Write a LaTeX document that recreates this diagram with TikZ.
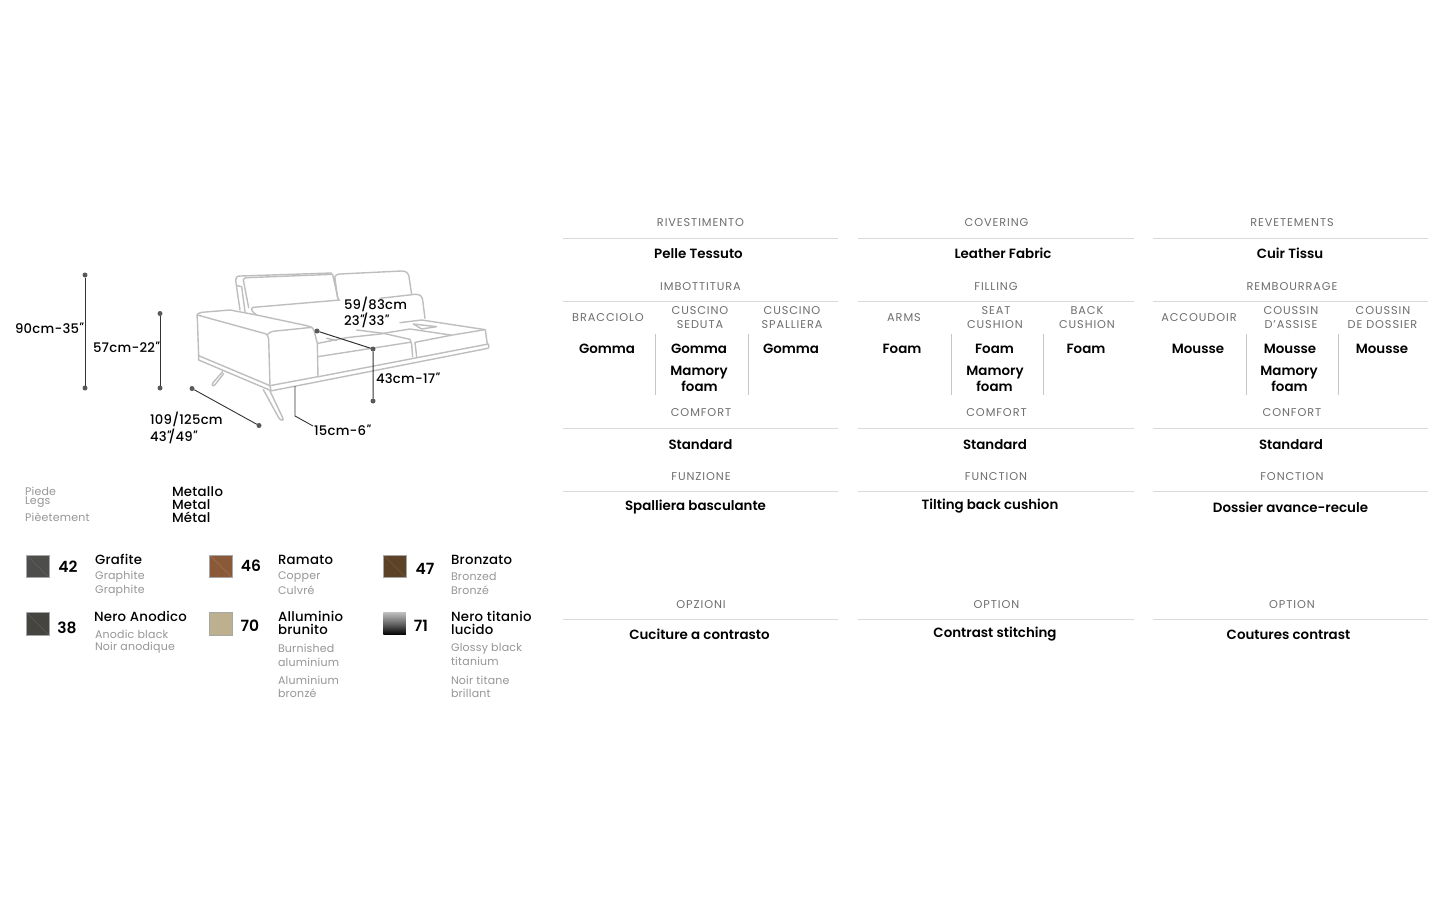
\documentclass[tikz,border=0pt]{standalone}
\usepackage{fontspec}
\setmainfont{Poppins}[BoldFont={Poppins SemiBold}]
\newfontfamily\medf{Poppins Medium}
\newfontfamily\slf{Poppins Medium}[FakeSlant=0.25]
\newcommand{\inch}{{\kern-1.6pt\slf"\kern-0.8pt}}
\newcounter{tn}
\newcommand{\T}[4]{\stepcounter{tn}\node[#1] (t\thetn) at (#2,#3) {#4};}
\definecolor{cap}{HTML}{6E6E6E}
\definecolor{sublab}{HTML}{969696}
\definecolor{sofa}{HTML}{BEBEBE}
\definecolor{swa}{RGB}{77,77,75}
\definecolor{swb}{RGB}{69,68,63}
\definecolor{swc}{RGB}{138,90,56}
\definecolor{swd}{RGB}{189,176,143}
\definecolor{swe}{RGB}{92,66,38}
\tikzset{
 x=1pt,y=-1pt,
 every node/.style={inner sep=0pt,outer sep=0pt},
 caphead/.style={font=\fontsize{11.3}{12}\selectfont\addfontfeatures{LetterSpace=8},text=cap,text height=8pt,text depth=0pt},
 val/.style={font=\bfseries\fontsize{13.4}{15}\selectfont,text=black,text height=9.5pt,text depth=0pt},
 dimtxt/.style={font=\medf\fontsize{13.2}{15}\selectfont\addfontfeatures{LetterSpace=2},text=black,anchor=west,text height=9.5pt,text depth=0pt},
 subl/.style={font=\fontsize{11}{12}\selectfont\addfontfeatures{LetterSpace=2},text=sublab,anchor=west,text height=7.5pt,text depth=0pt},
 ntxt/.style={font=\medf\fontsize{13.3}{15}\selectfont\addfontfeatures{LetterSpace=2},text=black,anchor=west,text height=9.5pt,text depth=0pt},
 numtxt/.style={font=\bfseries\fontsize{15.5}{17}\selectfont,text=black,text height=11pt,text depth=0pt},
 tblrule/.style={draw=black!15,line width=1pt},
 tblsep/.style={draw=black!22,line width=0.8pt},
 sofaline/.style={draw=sofa,line width=1.4pt,line join=round,line cap=round},
 dimdot/.style={circle,fill=black!65,minimum size=5pt},
 dimline/.style={draw=black!80,line width=1pt},
 swatch/.style={minimum width=22.5pt,minimum height=22.5pt,draw=black!35,line width=0.3pt},
}
\begin{document}
\begin{tikzpicture}
\useasboundingbox (0,0) rectangle (1440,900);
\fill[white] (0,0) rectangle (1440,900);
% sofa: left part, coordinates of a 3x crop at (190,265)
\begin{scope}[shift={(190,265)},x=0.3333pt,y=-0.3333pt]
\draw[sofaline] (22,158) .. controls (18,148) and (24,145) .. (35,142) -- (120,135) -- (200,150) -- (350,182) .. controls (368,186) and (372,192) .. (374,204) -- (382,235) -- (384,335);
\draw[sofaline] (22,150) -- (222,205) .. controls (232,208) and (235,212) .. (236,222) -- (240,362);
\draw[sofaline] (232,208) .. controls (238,202) and (245,199) .. (258,198) -- (366,187);
\draw[sofaline] (22,158) -- (26,272) -- (240,362) -- (384,335);
\draw[sofaline] (26,272) -- (26,285) -- (243,377) -- (240,362);
\draw[sofaline] (98,320) -- (70,352) .. controls (62,362) and (70,366) .. (76,358) -- (101,326);
\draw[sofaline] (220,374) -- (266,458) .. controls (272,468) and (284,468) .. (278,458) -- (240,378);
\draw[sofaline] (150,135) -- (141,75) -- (137,45) .. controls (137,36) and (142,33) .. (152,33) -- (425,24);
\draw[sofaline] (141,62) -- (155,65) -- (165,140);
\draw[sofaline] (160,45) .. controls (160,40) and (165,38) .. (172,38) -- (428,28) -- (445,105);
\draw[sofaline] (160,45) -- (176,128);
\draw[sofaline] (200,150) .. controls (185,140) and (180,130) .. (190,127) -- (450,105);
\end{scope}
% sofa: rest, coordinates of a 3x crop at (180,255)
\begin{scope}[shift={(180,255)},x=0.3333pt,y=-0.3333pt]
\draw[sofaline] (462,75) .. controls (465,60) and (470,58) .. (480,57) -- (665,48) .. controls (680,48) and (685,55) .. (687,65) -- (695,118);
\draw[sofaline] (465,70) -- (473,130);
\draw[sofaline] (600,130) -- (705,118) .. controls (722,117) and (726,125) .. (728,135) -- (735,190);
\draw[sofaline] (660,203) -- (725,195) -- (916,224) -- (922,268);
\draw[sofaline] (915,224) -- (812,241) -- (705,262) -- (710,305);
\draw[sofaline] (610,235) -- (690,222) -- (812,240);
\draw[sofaline] (530,225) -- (610,235) -- (690,253) .. controls (693,258) and (694,262) .. (695,268) -- (698,305);
\draw[sofaline] (414,265) -- (500,248) -- (610,236);
\draw[sofaline] (414,305) -- (690,262);
\draw[sofaline] (440,250) -- (470,256);
\draw[sofaline] (416,365) -- (925,267) .. controls (928,272) and (927,278) .. (924,280) -- (272,408);
\draw[sofaline] (700,207) -- (770,215) -- (725,222) -- cycle;
\end{scope}
% dimension lines
\node[dimdot] (d1) at (85,275) {}; \node[dimdot] (d2) at (85,388) {};
\node[dimdot] (d3) at (160,313.5) {}; \node[dimdot] (d4) at (160,388) {};
\node[dimdot] (d5) at (192,388.5) {}; \node[dimdot] (d6) at (259,425.5) {};
\node[dimdot] (d7) at (317,331) {}; \node[dimdot] (d8) at (373,349) {}; \node[dimdot] (d9) at (373,401) {};
\coordinate (c1) at (295,386); \coordinate (c2) at (295,416); \coordinate (c3) at (313,426);
\draw[dimline] (d1) -- (d2);
\draw[dimline] (d3) -- (d4);
\draw[dimline,line width=0.9pt] (d5) -- (d6);
\draw[dimline] (d7) -- (d8) -- (d9);
\draw[dimline,line width=0.9pt] (c1) -- (c2) -- (c3);
\T{dimtxt}{15}{328.5}{90cm-35\inch}
\T{dimtxt}{93}{347.5}{57cm-22\inch}
\T{dimtxt}{150}{419.5}{109/125cm}
\T{dimtxt}{150}{436.5}{43\inch/49\inch}
\T{dimtxt}{344}{305}{59/83cm}
\T{dimtxt}{344}{321}{23\inch/33\inch}
\T{dimtxt}{376}{378.5}{43cm-17\inch}
\T{dimtxt}{314}{430.5}{15cm-6\inch}
% legs
\T{subl}{25}{491.5}{Piede}
\T{subl}{25}{501}{Legs}
\T{subl}{25}{518}{Pièetement}
\T{ntxt}{172}{492}{Metallo}
\T{ntxt}{172}{505}{Metal}
\T{ntxt}{172}{518}{Métal}
% swatches
\node[swatch,fill=swa] (s1) at (37.5,566) {};
\node[swatch,fill=swb] (s2) at (37.5,623.5) {};
\node[swatch,fill=swc] (s3) at (220.5,566) {};
\node[swatch,fill=swd] (s4) at (220.5,623.5) {};
\node[swatch,fill=swe] (s5) at (394.5,566) {};
\node[swatch,draw=none,top color=black!25,bottom color=black,middle color=black!60] (s6) at (394.5,623.5) {};
\draw[white,opacity=0.12,line width=0.6pt] (s1.north west) -- (s1.south east);
\draw[white,opacity=0.12,line width=0.6pt] (s2.north west) -- (s2.south east);
\draw[white,opacity=0.15,line width=0.6pt] (s3.north west) -- (s3.south east);
\draw[white,opacity=0.12,line width=0.6pt] (s5.north west) -- (s5.south east);
\T{numtxt}{68}{566.5}{42}
\T{numtxt}{67}{627.5}{38}
\T{numtxt}{251}{566}{46}
\T{numtxt}{250}{626}{70}
\T{numtxt}{425}{568.5}{47}
\T{numtxt}{421}{626}{71}
\T{ntxt}{95}{560}{Grafite}
\T{subl}{95}{575.5}{Graphite}
\T{subl}{95}{589.5}{Graphite}
\T{ntxt}{94}{617}{Nero Anodico}
\T{subl}{95}{634.5}{Anodic black}
\T{subl}{95}{646.5}{Noir anodique}
\T{ntxt}{278}{560}{Ramato}
\T{subl}{278}{575.5}{Copper}
\T{subl}{278}{591}{Culvré}
\T{ntxt}{278}{617}{Alluminio}
\T{ntxt}{278}{630}{brunito}
\T{subl}{278}{648.5}{Burnished}
\T{subl}{278}{662.5}{aluminium}
\T{subl}{278}{681}{Aluminium}
\T{subl}{278}{693.5}{bronzé}
\T{ntxt}{451}{560}{Bronzato}
\T{subl}{451}{577}{Bronzed}
\T{subl}{451}{591}{Bronzé}
\T{ntxt}{451}{617}{Nero titanio}
\T{ntxt}{451}{630}{lucido}
\T{subl}{451}{647.5}{Glossy black}
\T{subl}{451}{662}{titanium}
\T{subl}{451}{681}{Noir titane}
\T{subl}{451}{693.5}{brillant}
% table rules
\foreach \xa/\xb/\k in {563/838/a,858/1134/b,1153/1428/c}{
 \foreach \yy in {238,301,428,491,619}{
  \coordinate (ra) at (\xa,\yy); \coordinate (rb) at (\xb,\yy);
  \draw[tblrule] (ra) -- (rb);
 }
}
\foreach \xx in {655,748,951.5,1043.5,1246,1338.5}{
 \coordinate (sa) at (\xx,334); \coordinate (sb) at (\xx,395);
 \draw[tblsep] (sa) -- (sb);
}
% column 1
\T{caphead}{700.5}{222}{RIVESTIMENTO}
\T{val}{698.5}{253.5}{Pelle Tessuto}
\T{caphead}{700.5}{286}{IMBOTTITURA}
\T{caphead}{608}{317}{BRACCIOLO}
\T{caphead}{700}{310}{CUSCINO}
\T{caphead}{700}{324}{SEDUTA}
\T{caphead}{792}{310}{CUSCINO}
\T{caphead}{792}{324}{SPALLIERA}
\T{val}{607}{348.5}{Gomma}
\T{val}{699}{348.5}{Gomma}
\T{val}{791}{348.5}{Gomma}
\T{val}{699}{371}{Mamory}
\T{val}{699.5}{387}{foam}
\T{caphead}{701}{412.5}{COMFORT}
\T{val}{700.5}{444.5}{Standard}
\T{caphead}{701}{476}{FUNZIONE}
\T{val}{695.5}{505.5}{Spalliera basculante}
\T{caphead}{701}{604}{OPZIONI}
\T{val}{699.5}{635}{Cuciture a contrasto}
% column 2
\T{caphead}{996.5}{222}{COVERING}
\T{val}{1003}{253.5}{Leather Fabric}
\T{caphead}{996}{286}{FILLING}
\T{caphead}{904}{317}{ARMS}
\T{caphead}{996}{310.5}{SEAT}
\T{caphead}{995}{324}{CUSHION}
\T{caphead}{1087}{310}{BACK}
\T{caphead}{1087}{324}{CUSHION}
\T{val}{902}{348.5}{Foam}
\T{val}{994.5}{348.5}{Foam}
\T{val}{1086}{348.5}{Foam}
\T{val}{995}{371}{Mamory}
\T{val}{994.5}{387}{foam}
\T{caphead}{996.5}{412.5}{COMFORT}
\T{val}{995}{444.5}{Standard}
\T{caphead}{996}{476}{FUNCTION}
\T{val}{990}{505}{Tilting back cushion}
\T{caphead}{996.5}{604}{OPTION}
\T{val}{995}{632.5}{Contrast stitching}
% column 3
\T{caphead}{1292}{222}{REVETEMENTS}
\T{val}{1290}{253.5}{Cuir Tissu}
\T{caphead}{1292}{286}{REMBOURRAGE}
\T{caphead}{1199}{317}{ACCOUDOIR}
\T{caphead}{1291}{310}{COUSSIN}
\T{caphead}{1291}{324}{D'ASSISE}
\T{caphead}{1383}{310}{COUSSIN}
\T{caphead}{1382.5}{324}{DE DOSSIER}
\T{val}{1198}{348.5}{Mousse}
\T{val}{1290}{348.5}{Mousse}
\T{val}{1382}{348.5}{Mousse}
\T{val}{1289}{371}{Mamory}
\T{val}{1289.5}{387}{foam}
\T{caphead}{1292}{412.5}{CONFORT}
\T{val}{1291}{444.5}{Standard}
\T{caphead}{1292}{476}{FONCTION}
\T{val}{1290.5}{507.5}{Dossier avance-recule}
\T{caphead}{1292}{604}{OPTION}
\T{val}{1288.5}{635}{Coutures contrast}
\end{tikzpicture}
\end{document}
